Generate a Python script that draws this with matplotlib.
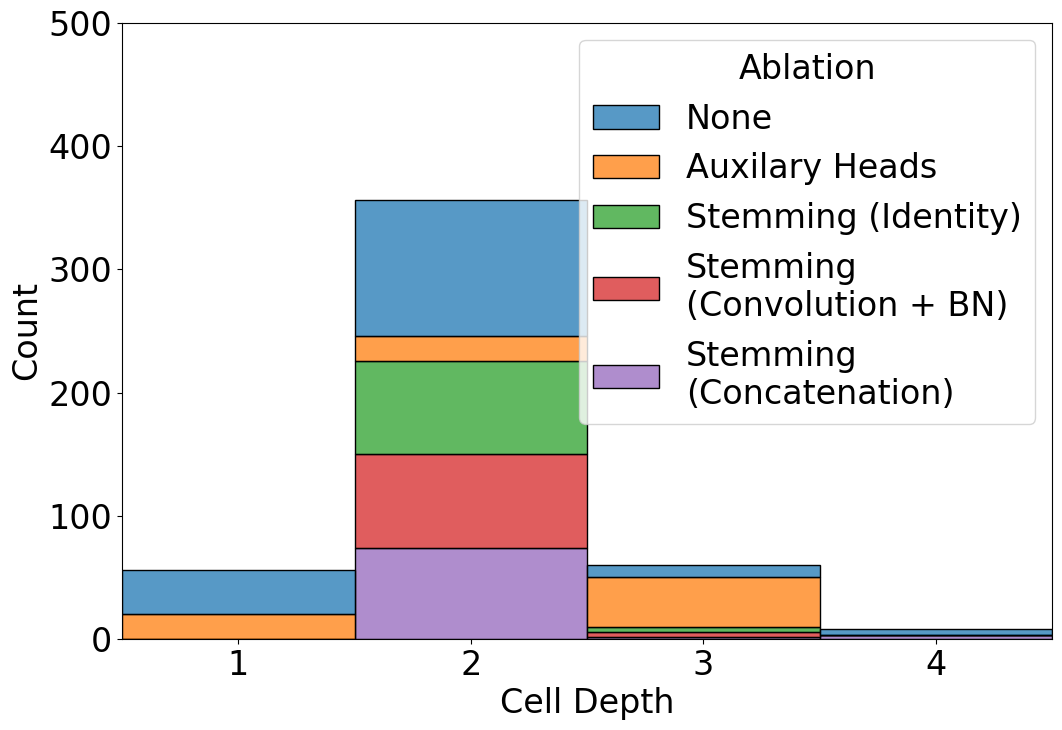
import matplotlib
matplotlib.use("Agg")
import matplotlib.pyplot as plt
from matplotlib.colors import to_rgba
import numpy as np

depths = [1, 2, 3, 4]
ablations = ["None", "Auxilary Heads", "Stemming (Identity)",
             "Stemming\n(Convolution + BN)", "Stemming\n(Concatenation)"]
counts_none = [36, 110, 10, 5]
counts_aux = [20, 20, 40, 0]
counts_identity = [0, 76, 4, 0]
counts_conv = [0, 76, 4, 0]
counts_concat = [0, 74, 2, 3]

series = [counts_none, counts_aux, counts_identity, counts_conv, counts_concat]
colors = ["#1f77b4", "#ff7f0e", "#2ca02c", "#d62728", "#9467bd"]

fig = plt.figure(figsize=(10.62, 7.30), dpi=100)
ax = fig.add_axes([122/1062, 1 - 639/730, (1052-122)/1062, (639-23)/730])

x = np.array(depths)
bottom = np.zeros(len(depths))
handles = [None] * len(series)
# stack from last hue at bottom
for i in reversed(range(len(series))):
    vals = np.array(series[i], dtype=float)
    h = ax.bar(x, vals, width=1.0, bottom=bottom, facecolor=to_rgba(colors[i], 0.75),
               edgecolor="black", linewidth=1.0, label=ablations[i])
    handles[i] = h
    bottom += vals

ax.set_xlim(0.5, 4.5)
ax.set_ylim(0, 500)
ax.set_xticks(depths)
ax.set_yticks([0, 100, 200, 300, 400, 500])
ax.tick_params(labelsize=24)
ax.set_xlabel("Cell Depth", fontsize=24)
ax.set_ylabel("Count", fontsize=24)

leg = ax.legend(handles, ablations, title="Ablation", fontsize=24, title_fontsize=24,
                loc="upper right")

fig.savefig("out.png", dpi=100)
